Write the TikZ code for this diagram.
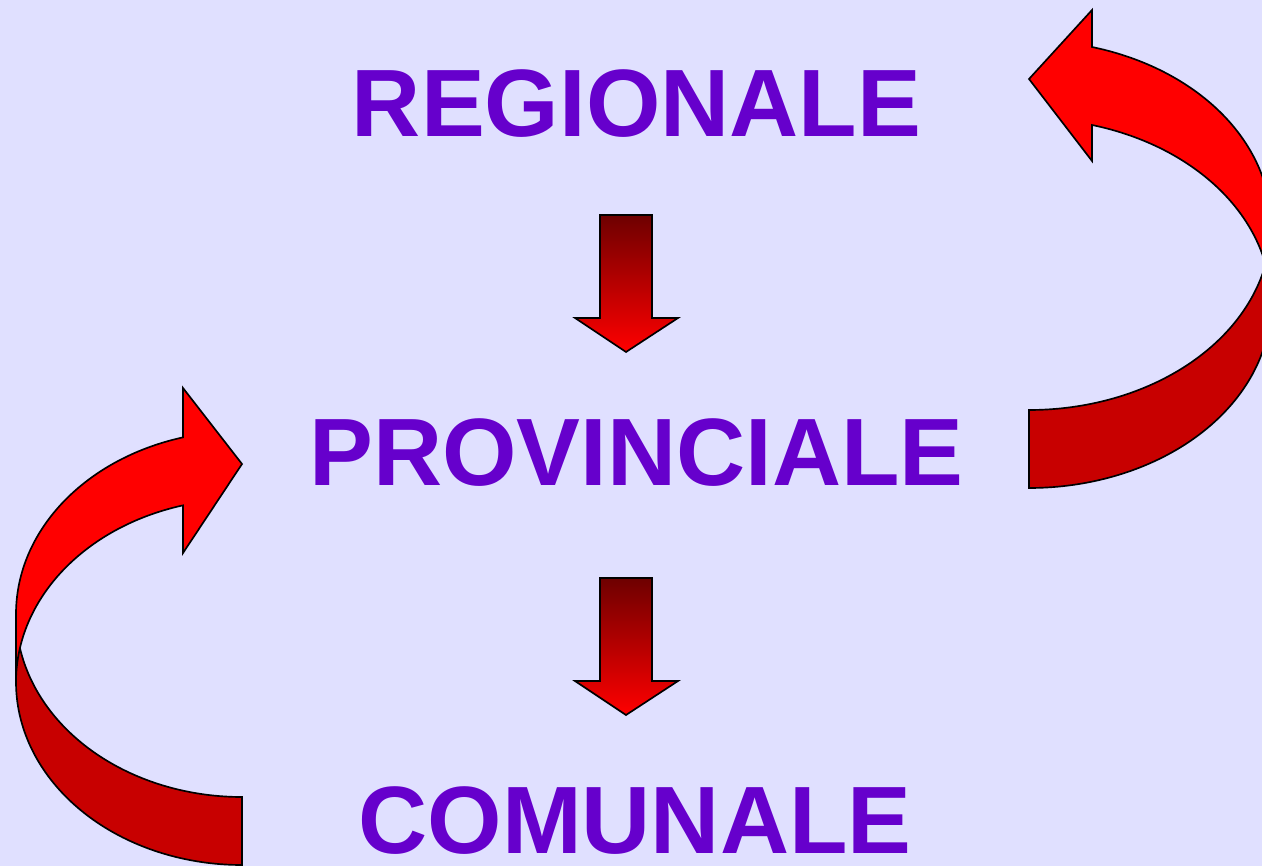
\documentclass[tikz,border=0pt]{standalone}
\usepackage{fontspec}
\setmainfont{Liberation Sans}
\definecolor{bg}{RGB}{224,224,255}
\definecolor{txt}{RGB}{102,0,204}
\definecolor{front}{RGB}{255,0,0}
\definecolor{back}{RGB}{200,0,0}
\definecolor{gtop}{RGB}{110,0,0}
\begin{document}
\begin{tikzpicture}[x=0.75pt,y=-0.75pt,
  lbl/.style={anchor=base,inner sep=0pt,text=txt,font=\fontsize{71.8}{80}\selectfont\bfseries},
  outl/.style={draw=black,line width=1.25pt,line join=miter},
  frontpart/.style={outl,fill=front},
  backpart/.style={outl,fill=back},
  downarrow/.style={outl,top color=gtop,bottom color=front}]
\fill[bg] (0,0) rectangle (1262,866);
\useasboundingbox (0,0) rectangle (1262,866);
\clip (0,0) rectangle (1262,866);

% texts
\node[lbl] (reg) at (636.5,137) {REGIONALE};
\node[lbl] (prov) at (636.5,485) {PROVINCIALE};
\node[lbl] (com) at (635,853) {COMUNALE};

% straight down arrows
\path[downarrow] (600,215) -- (652,215) -- (652,318) -- (678,318) -- (626,352) -- (575,318) -- (600,318) -- cycle;
\path[downarrow] (600,578) -- (652,578) -- (652,681) -- (678,681) -- (626,715) -- (575,681) -- (600,681) -- cycle;

% left curved arrow (pointing right)
\path[backpart] plot[domain=180:90,samples=80] ({242+226*cos(\x)},{614+183*sin(\x)})
  -- plot[domain=90:180,samples=80] ({242+226*cos(\x)},{682+183*sin(\x)}) -- cycle;
\path[frontpart] plot[domain=180:254.87,samples=80] ({242+226*cos(\x)},{614+183*sin(\x)})
  -- (183,388) -- (242,464) -- (183,553)
  -- plot[domain=254.87:180,samples=80] ({242+226*cos(\x)},{682+183*sin(\x)}) -- cycle;

% right curved arrow (pointing left)
\path[backpart] plot[domain=0:90,samples=80] ({1029+242*cos(\x)},{225.32+184.68*sin(\x)})
  -- plot[domain=90:0,samples=80] ({1029+242*cos(\x)},{303.32+184.68*sin(\x)}) -- cycle;
\path[frontpart] plot[domain=0:-74.91,samples=80] ({1029+242*cos(\x)},{225.32+184.68*sin(\x)})
  -- (1092,10) -- (1029,79) -- (1092,161)
  -- plot[domain=-74.91:0,samples=80] ({1029+242*cos(\x)},{303.32+184.68*sin(\x)}) -- cycle;
\end{tikzpicture}
\end{document}
